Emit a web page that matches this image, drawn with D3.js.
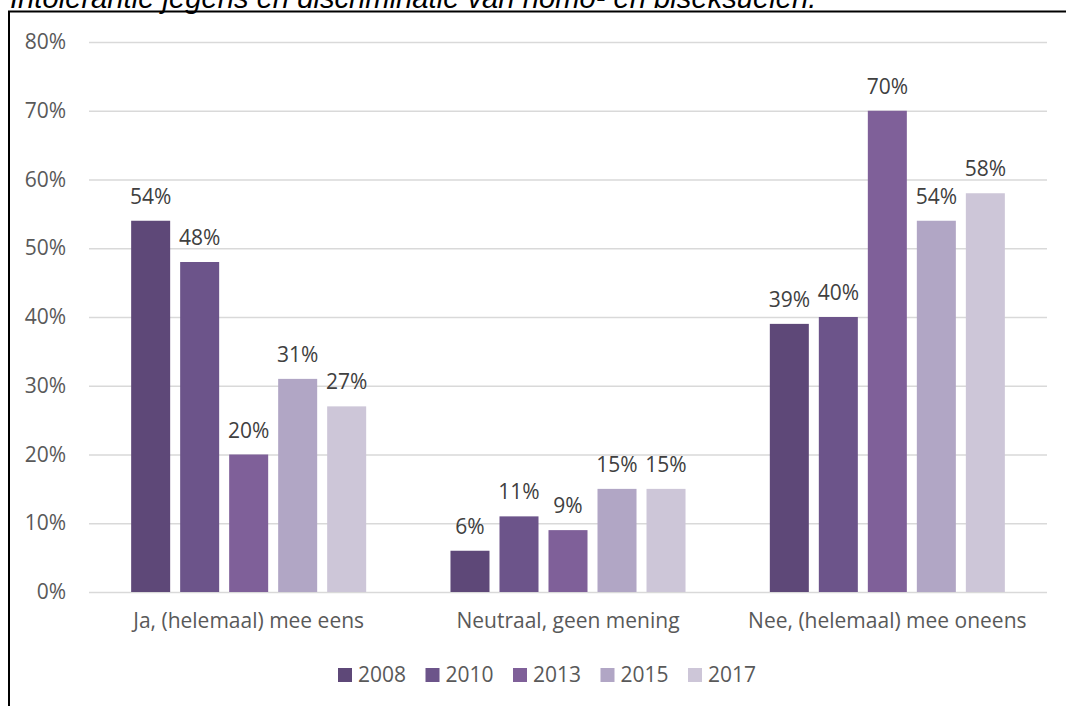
<!DOCTYPE html>
<html><head><meta charset="utf-8">
<script src="https://cdn.jsdelivr.net/npm/d3@7"></script>
<style>body{margin:0;background:#fff}svg{display:block}</style>
</head><body>
<script>
const title = "Intolerantie jegens en discriminatie van homo- en biseksuelen.";
const categories = ["Ja, (helemaal) mee eens", "Neutraal, geen mening", "Nee, (helemaal) mee oneens"];
const years = ["2008", "2010", "2013", "2015", "2017"];
const values2008 = [54, 6, 39];
const values2010 = [48, 11, 40];
const values2013 = [20, 9, 70];
const values2015 = [31, 15, 54];
const values2017 = [27, 15, 58];
const yTicks = [0, 10, 20, 30, 40, 50, 60, 70, 80];
const colors = ["#5e4878", "#6c548a", "#7f6099", "#b1a6c5", "#cdc6d8"];

const series = [values2008, values2010, values2013, values2015, values2017];
const W = 1066, H = 706;
const font = "'Open Sans', Lato, sans-serif";
const fs = 21;
const svg = d3.select("body").append("svg").attr("width", W).attr("height", H);

// title (partially clipped at top, as in the source image)
svg.append("text").attr("x", 10).attr("y", 8)
  .attr("font-family", "'Liberation Sans', Arial, sans-serif")
  .attr("font-style", "italic").attr("font-size", 29.2).attr("fill", "#000")
  .text(title);

// frame
svg.append("rect").attr("x", 9).attr("y", 11.5).attr("width", W + 20).attr("height", H + 20)
  .attr("fill", "none").attr("stroke", "#000").attr("stroke-width", 2);

const y = d3.scaleLinear().domain([0, 80]).range([592, 42]);
const x0 = d3.scaleBand().domain(categories).range([89, 1047]).paddingInner(0.264).paddingOuter(0.132);
const x1 = d3.scaleBand().domain(years).range([0, x0.bandwidth()]).paddingInner(0.204);

// gridlines + y labels
const yAxis = d3.axisLeft(y).tickValues(yTicks).tickSize(-(1047 - 89)).tickFormat(d => d + "%").tickPadding(23);
const gy = svg.append("g").attr("transform", "translate(89,0)").call(yAxis);
gy.select(".domain").remove();
gy.selectAll(".tick line").attr("stroke", "#d9d9d9").attr("stroke-width", 1.3);
gy.selectAll(".tick text").attr("font-family", font).attr("font-size", fs).attr("fill", "#595959");

// bars
const groups = svg.append("g").selectAll("g").data(categories).join("g")
  .attr("transform", d => `translate(${x0(d)},0)`);
groups.each(function(cat, ci) {
  const g = d3.select(this);
  const data = years.map((yr, si) => ({yr, v: series[si][ci], c: colors[si]}));
  g.selectAll("rect").data(data).join("rect")
    .attr("x", d => x1(d.yr)).attr("width", x1.bandwidth())
    .attr("y", d => y(d.v)).attr("height", d => y(0) - y(d.v))
    .attr("fill", d => d.c);
  g.selectAll("text").data(data).join("text")
    .attr("x", d => x1(d.yr) + x1.bandwidth() / 2).attr("y", d => y(d.v) - 17)
    .attr("text-anchor", "middle").attr("font-family", font).attr("font-size", fs).attr("fill", "#404040")
    .text(d => d.v + "%");
});

// x axis labels
const xAxis = d3.axisBottom(x0).tickSize(0).tickPadding(20.6);
const gx = svg.append("g").attr("transform", "translate(0,592)").call(xAxis);
gx.select(".domain").remove();
gx.selectAll(".tick text").attr("font-family", font).attr("font-size", fs).attr("fill", "#595959");

// legend
const legend = svg.append("g").attr("transform", "translate(338,668)");
const li = legend.selectAll("g").data(years).join("g").attr("transform", (d, i) => `translate(${i * 87.5},0)`);
li.append("rect").attr("width", 14).attr("height", 14).attr("fill", (d, i) => colors[i]);
li.append("text").attr("x", 20).attr("y", 14).attr("font-family", font).attr("font-size", fs)
  .attr("fill", "#595959").text(d => d);
</script>
</body></html>
